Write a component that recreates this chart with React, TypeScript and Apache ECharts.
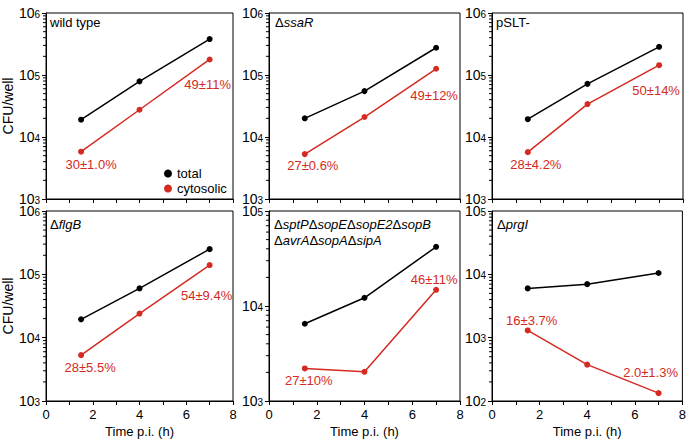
import React, { useEffect, useRef } from 'react';
import * as echarts from 'echarts';

// ---------- data ----------
const times = [1.5, 4, 7];

const totalWT = [19000, 79000, 380000];
const cytoWT = [5800, 27500, 178000];
const totalSsaR = [20000, 55000, 275000];
const cytoSsaR = [5300, 21000, 126000];
const totalPSLT = [19400, 72000, 285000];
const cytoPSLT = [5700, 34000, 144000];
const totalFlgB = [19500, 60000, 250000];
const cytoFlgB = [5300, 24000, 140000];
const totalEff = [6500, 12200, 42000];
const cytoEff = [2200, 2030, 14800];
const totalPrgI = [6000, 7000, 10500];
const cytoPrgI = [1300, 375, 133];

const labelsWT = ['30±1.0%', '', '49±11%'];
const labelsSsaR = ['27±0.6%', '', '49±12%'];
const labelsPSLT = ['28±4.2%', '', '50±14%'];
const labelsFlgB = ['28±5.5%', '', '54±9.4%'];
const labelsEff = ['27±10%', '', '46±11%'];
const labelsPrgI = ['16±3.7%', '', '2.0±1.3%'];

const yMins = [1e3, 1e3, 1e3, 1e3, 1e3, 1e2];
const yMaxs = [1e6, 1e6, 1e6, 1e6, 1e5, 1e5];

const titles = [
  '{n|wild type}',
  '{n|Δ}{i|ssaR}',
  '{n|pSLT-}',
  '{n|Δ}{i|flgB}',
  '{n|Δ}{i|sptP}{n|Δ}{i|sopE}{n|Δ}{i|sopE2}{n|Δ}{i|sopB}\n{n|Δ}{i|avrA}{n|Δ}{i|sopA}{n|Δ}{i|sipA}',
  '{n|Δ}{i|prgI}',
];

const legendNames = ['total', 'cytosolic'];
const xName = 'Time p.i. (h)';
const yName = 'CFU/well';

// ---------- layout ----------
const FONT = '"Liberation Sans", Arial, Helvetica, sans-serif';
const RED = '#d42a22';
const colLefts = [44, 269, 492];
const colWidths = [189, 191, 191];
const rowTops = [9, 211];
const rowHeight = 190;
const titlePos = [
  [50, 14],
  [275, 14],
  [496, 14],
  [50, 216],
  [274, 216],
  [497, 216],
];
// label offsets for the two annotated cytosolic points [first, last]
const labelOffsets = [
  [[10, 13], [-2, 25]],
  [[8, 11], [-2, 27]],
  [[8, 12], [-3, 25]],
  [[9, 12], [-3, 30]],
  [[4, 12], [-2, -10]],
  [[4, -10], [-8, -21]],
];

const totals = [totalWT, totalSsaR, totalPSLT, totalFlgB, totalEff, totalPrgI];
const cytos = [cytoWT, cytoSsaR, cytoPSLT, cytoFlgB, cytoEff, cytoPrgI];
const cytoLabels = [labelsWT, labelsSsaR, labelsPSLT, labelsFlgB, labelsEff, labelsPrgI];

function minorTicks(min: number, max: number): number[] {
  const out: number[] = [];
  const e0 = Math.round(Math.log10(min));
  const e1 = Math.round(Math.log10(max));
  for (let e = e0; e < e1; e++) {
    for (let k = 2; k <= 9; k++) out.push(k * Math.pow(10, e));
  }
  return out;
}

export default function App() {
  const ref = useRef<HTMLDivElement>(null);
  useEffect(() => {
    if (!ref.current) return;
    const chart = echarts.init(ref.current, null, { renderer: 'svg' });
    const grids: any[] = [];
    const xAxes: any[] = [];
    const yAxes: any[] = [];
    const series: any[] = [];
    const title: any[] = [];
    for (let i = 0; i < 6; i++) {
      const row = Math.floor(i / 3);
      const col = i % 3;
      grids.push({
        left: colLefts[col],
        top: rowTops[row],
        width: colWidths[col],
        height: rowHeight,
        show: true,
        borderColor: '#000',
        borderWidth: 1,
        backgroundColor: 'transparent',
      });
      xAxes.push({
        type: 'value',
        gridIndex: i,
        min: 0,
        max: 8,
        interval: 2,
        axisLine: { show: true, onZero: false, lineStyle: { color: '#000', width: 1 } },
        axisTick: { show: true, inside: false, length: 4, lineStyle: { color: '#000' } },
        minorTick: { show: true, splitNumber: 2, length: 4, lineStyle: { color: '#000' } },
        splitLine: { show: false },
        minorSplitLine: { show: false },
        axisLabel: {
          show: row === 1,
          fontSize: 13,
          fontFamily: FONT,
          color: '#000',
          margin: 7,
        },
        name: row === 1 ? xName : '',
        nameLocation: 'middle',
        nameGap: 24,
        nameTextStyle: { fontSize: 13, fontFamily: FONT, color: '#000' },
      });
      yAxes.push({
        type: 'log',
        logBase: 10,
        gridIndex: i,
        min: yMins[i],
        max: yMaxs[i],
        axisLine: { show: true, lineStyle: { color: '#000', width: 1 } },
        axisTick: { show: true, inside: false, length: 4, lineStyle: { color: '#000' } },
        splitLine: { show: false },
        axisLabel: {
          fontFamily: FONT,
          fontSize: 14,
          color: '#000',
          margin: 6,
          formatter: (v: number) => `{b|10}{s|${Math.round(Math.log10(v))}}`,
          rich: {
            b: { fontSize: 14, fontFamily: FONT, color: '#000', lineHeight: 14, padding: [6, 0, 0, 0], verticalAlign: 'bottom' },
            s: { fontSize: 10, fontFamily: FONT, color: '#000', lineHeight: 12, padding: [3, 0, 0, 0], verticalAlign: 'top' },
          },
        },
        name: col === 0 ? yName : '',
        nameLocation: 'middle',
        nameGap: 28,
        nameTextStyle: { fontSize: 14, fontFamily: FONT, color: '#000' },
      });
      series.push({
        type: 'line',
        name: 'total',
        xAxisIndex: i,
        yAxisIndex: i,
        data: times.map((t, j) => [t, totals[i][j]]),
        symbol: 'circle',
        symbolSize: 6,
        lineStyle: { color: '#000', width: 1.5 },
        itemStyle: { color: '#000' },
        emphasis: { disabled: true },
      });
      series.push({
        type: 'line',
        name: 'cytosolic',
        xAxisIndex: i,
        yAxisIndex: i,
        data: times.map((t, j) => {
          const txt = cytoLabels[i][j];
          const item: any = { value: [t, cytos[i][j]] };
          if (txt) {
            const off = j === 0 ? labelOffsets[i][0] : labelOffsets[i][1];
            item.label = {
              show: true,
              formatter: txt,
              position: 'inside',
              offset: off,
              color: RED,
              fontSize: 13,
              fontFamily: FONT,
            };
          }
          return item;
        }),
        symbol: 'circle',
        symbolSize: 6,
        lineStyle: { color: RED, width: 1.5 },
        itemStyle: { color: RED },
        emphasis: { disabled: true },
      });
      series.push({
        type: 'custom',
        name: 'minor',
        xAxisIndex: i,
        yAxisIndex: i,
        silent: true,
        clip: false,
        data: minorTicks(yMins[i], yMaxs[i]).map((v) => [0, v]),
        renderItem: (_p: any, api: any) => {
          const p = api.coord([0, api.value(1)]);
          return {
            type: 'line',
            shape: { x1: p[0] - 3, y1: p[1], x2: p[0], y2: p[1] },
            style: { stroke: '#000', lineWidth: 1 },
          };
        },
      });
      title.push({
        text: titles[i],
        left: titlePos[i][0],
        top: titlePos[i][1],
        padding: 0,
        textStyle: {
          fontWeight: 'normal',
          rich: {
            n: { fontSize: 13, fontFamily: FONT, color: '#000', lineHeight: 16, fontWeight: 'normal' },
            i: { fontSize: 13, fontFamily: FONT, color: '#000', fontStyle: 'italic', lineHeight: 16, fontWeight: 'normal' },
          },
        },
      });
    }
    chart.setOption({
      animation: false,
      backgroundColor: '#fff',
      title,
      grid: grids,
      xAxis: xAxes,
      yAxis: yAxes,
      legend: {
        data: [
          { name: legendNames[0], icon: 'circle' },
          { name: legendNames[1], icon: 'circle' },
        ],
        orient: 'vertical',
        left: 164,
        top: 167,
        itemWidth: 8,
        itemHeight: 8,
        itemGap: 2,
        padding: 0,
        selectedMode: false,
        textStyle: { fontSize: 13, fontFamily: FONT, color: '#000' },
      },
      series,
    });
    return () => chart.dispose();
  }, []);
  return <div ref={ref} style={{ width: 689, height: 442, position: 'fixed', left: 0, top: 0 }} />;
}
